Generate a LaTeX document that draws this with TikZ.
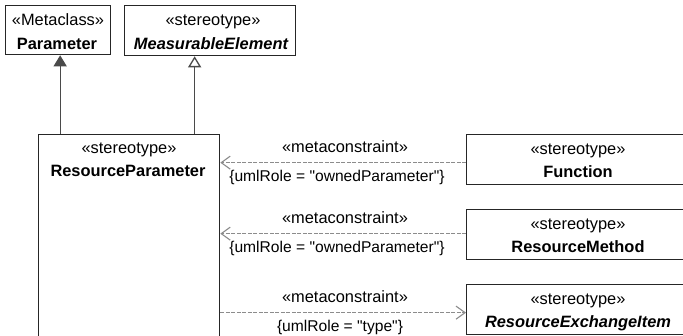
\documentclass[tikz,border=0pt]{standalone}
\usepackage{fontspec}
\newfontfamily\lib{Liberation Sans}
\usetikzlibrary{arrows.meta}
\definecolor{boxline}{HTML}{262626}
\definecolor{genline}{HTML}{4A4A4A}
\definecolor{depline}{HTML}{8C8C8C}
\begin{document}
\begin{tikzpicture}[x=1pt,y=-1pt,
  box/.style={draw=boxline, line width=1.3pt, fill=white, inner sep=0pt, anchor=north west},
  txt/.style={font=\lib\fontsize{16.4}{19}\selectfont, inner sep=0pt, anchor=base},
  lbl/.style={font=\lib\fontsize{15.6}{19}\selectfont, inner sep=0pt, anchor=base},
  gen/.style={draw=genline, line width=1.3pt},
  dep/.style={draw=depline, line width=1.2pt, dash pattern=on 4pt off 1.5pt,
    -{Straight Barb[length=9pt, width=13pt, line width=1.1pt]}},
]
\useasboundingbox (0,0) rectangle (683,336);
\clip (0,0) rectangle (683,336);
\fill[white] (0,0) rectangle (683,336);

% boxes
\node[box, minimum width=105pt, minimum height=49pt] (param) at (5,5) {};
\node[box, minimum width=171pt, minimum height=50pt] (meas) at (124,5) {};
\node[box, minimum width=181pt, minimum height=230pt] (rp) at (38,134) {};
\node[box, minimum width=224pt, minimum height=50pt] (func) at (466,134) {};
\node[box, minimum width=224pt, minimum height=50pt] (rm) at (466,209) {};
\node[box, minimum width=224pt, minimum height=50pt] (rei) at (466,284) {};

% box texts
\node[txt] (paramS) at (58,26) {«Metaclass»};
\node[txt, font=\lib\bfseries\fontsize{16.4}{19}\selectfont] (paramN) at (57,49.5) {Parameter};
\node[txt] (measS) at (213,26) {«stereotype»};
\node[txt, font=\lib\bfseries\itshape\fontsize{16.4}{19}\selectfont] (measN) at (211,49.5) {MeasurableElement};
\node[txt] (rpS) at (129,154) {«stereotype»};
\node[txt, font=\lib\bfseries\fontsize{16.4}{19}\selectfont] (rpN) at (128,177) {ResourceParameter};
\node[txt] (funcS) at (578,155) {«stereotype»};
\node[txt, font=\lib\bfseries\fontsize{16.4}{19}\selectfont] (funcN) at (578,178) {Function};
\node[txt] (rmS) at (578,230) {«stereotype»};
\node[txt, font=\lib\bfseries\fontsize{16.4}{19}\selectfont] (rmN) at (578,253) {ResourceMethod};
\node[txt] (reiS) at (578,305) {«stereotype»};
\node[txt, font=\lib\bfseries\itshape\fontsize{16.4}{19}\selectfont] (reiN) at (578,328) {ResourceExchangeItem};

% generalizations
\coordinate (gp) at ([xshift=2pt]param.south);
\coordinate (gm) at ([xshift=-15.5pt]meas.south);
\draw[gen, -{Triangle[length=11pt, width=13pt, fill=genline]}] (gp |- rp.north) -- (gp);
\draw[gen, -{Triangle[open, length=11pt, width=13pt, fill=white]}] (gm |- rp.north) -- (gm);

% dependencies
\coordinate (f1) at ([yshift=-3pt]func.west);
\coordinate (m1) at ([yshift=1pt]rm.west);
\coordinate (r1) at ([yshift=-3pt]rei.west);
\draw[dep] (f1) -- (f1 -| rp.east);
\draw[dep] (m1) -- (m1 -| rp.east);
\draw[dep] (r1 -| rp.east) -- (r1);

% dependency labels
\node[txt] (l1a) at (345,153) {«metaconstraint»};
\node[lbl] (l1b) at (337,182) {\{umlRole = "ownedParameter"\}};
\node[txt] (l2a) at (345,224) {«metaconstraint»};
\node[lbl] (l2b) at (337,253) {\{umlRole = "ownedParameter"\}};
\node[txt] (l3a) at (345,303) {«metaconstraint»};
\node[lbl] (l3b) at (340,332) {\{umlRole = "type"\}};
\end{tikzpicture}
\end{document}
